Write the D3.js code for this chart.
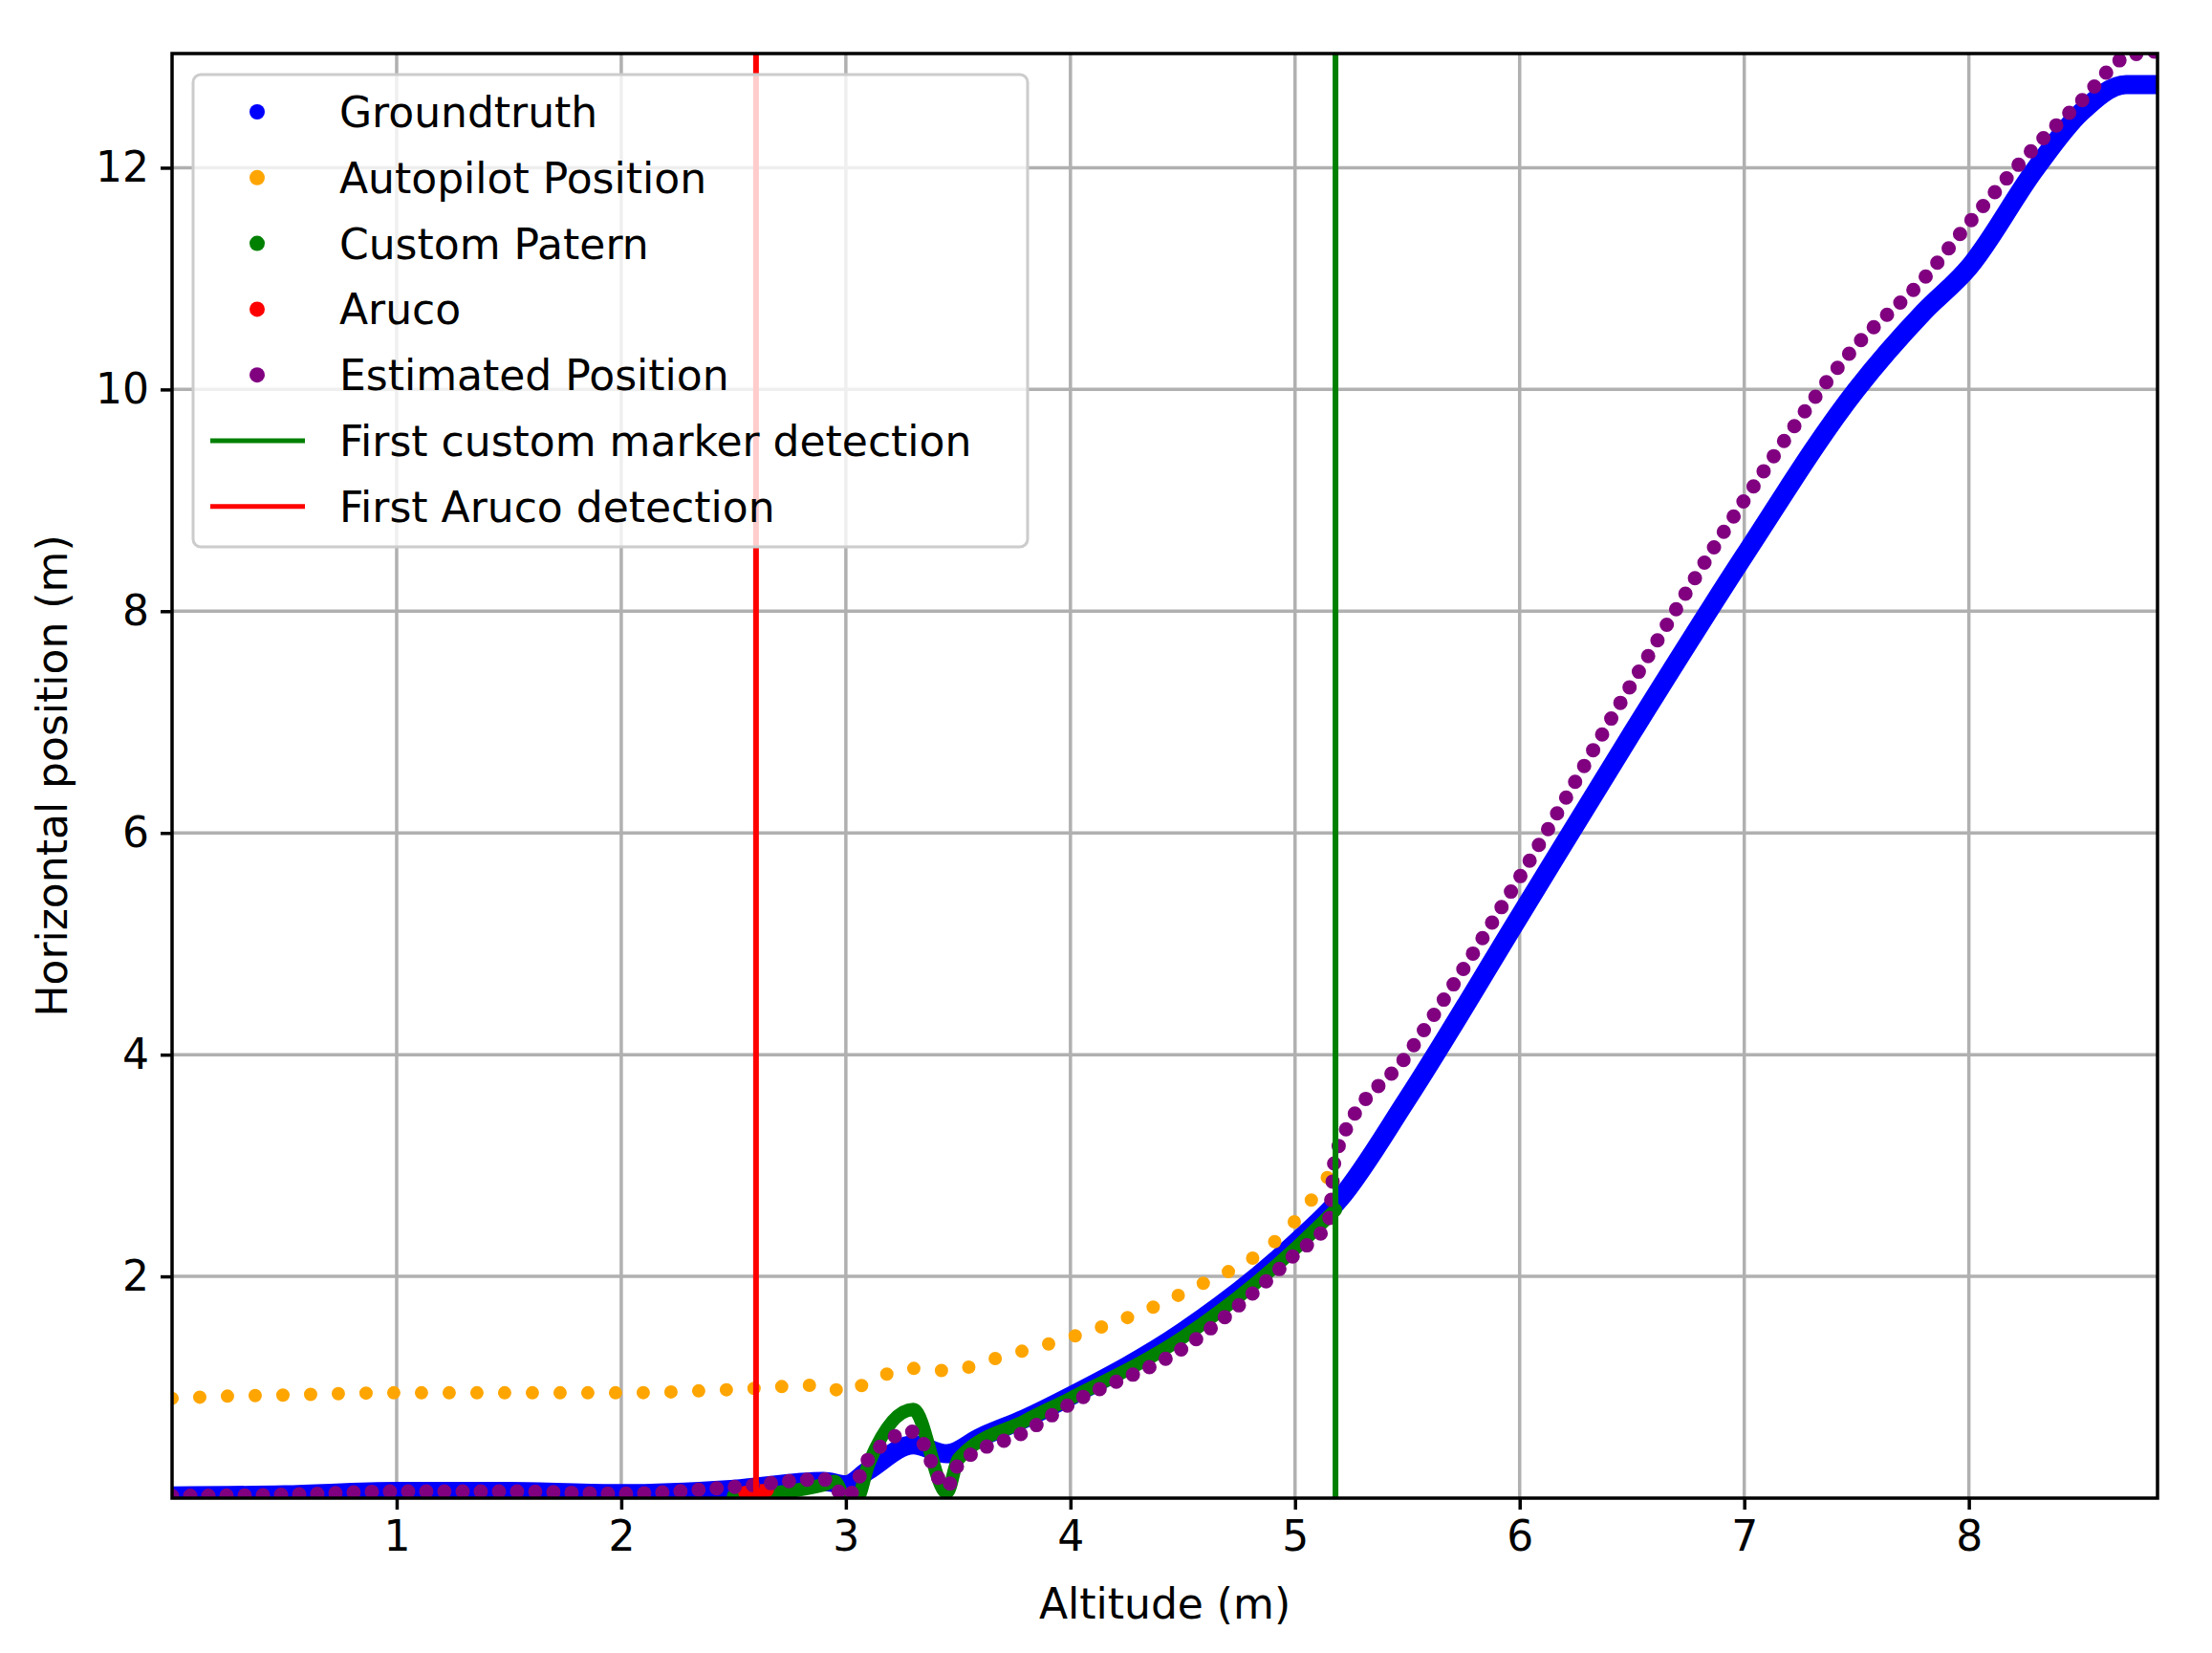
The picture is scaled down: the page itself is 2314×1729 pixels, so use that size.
<!DOCTYPE html><html><head><meta charset="utf-8">
<script src="https://cdn.jsdelivr.net/npm/d3@7"></script>
<style>body{margin:0;background:#fff}text{font-family:"DejaVu Sans",sans-serif}</style></head><body>
<svg id="c" width="2314" height="1729"></svg>
<script>
const xTicks=[1,2,3,4,5,6,7,8], yTicks=[2,4,6,8,10,12];
const gtX=[0,0.5,1,1.5,2,2.5,2.9,3.0,3.1,3.3,3.45,3.6,3.8,4,4.5,5,5.2,5.5,6,6.5,7,7.5,7.8,8,8.3,8.5,8.7,8.84];
const gtY=[0.02,0.03,0.06,0.06,0.04,0.08,0.15,0.12,0.25,0.48,0.4,0.55,0.72,0.92,1.5,2.3,2.7,3.6,5.25,6.9,8.5,10.0,10.7,11.1,12.0,12.5,12.75,12.75];
const apX=[0,0.25,0.5,1,1.5,2,2.5,2.9,3.0,3.1,3.3,3.45,3.7,4,4.5,5,5.18];
const apY=[0.9,0.92,0.93,0.95,0.95,0.95,0.98,1.02,0.95,1.05,1.17,1.15,1.28,1.45,1.85,2.5,3.0];
const cpX=[2.5,2.9,2.95,3.0,3.05,3.1,3.3,3.45,3.5,3.8,4,4.5,5,5.18];
const cpY=[0.02,0.12,0.15,0.0,0.0,0.3,0.8,0.05,0.35,0.7,0.9,1.45,2.25,2.6];
const arX=[2.55,2.6,2.65], arY=[0.05,0.06,0.07];
const esX=[0,0.5,1,1.5,2,2.5,2.9,2.95,3.0,3.1,3.3,3.45,3.5,3.8,4,4.5,5,5.15,5.18,5.5,6,6.5,7,7.5,7.8,8,8.3,8.5,8.7,8.84];
const esY=[0.02,0.03,0.06,0.06,0.04,0.1,0.17,0.1,0.0,0.35,0.6,0.1,0.3,0.6,0.85,1.35,2.2,2.5,3.1,4.0,5.6,7.35,9.0,10.4,11.0,11.5,12.2,12.6,13.0,13.05];
const firstCustom=5.18, firstAruco=2.6;

const svg=d3.select("#c");
const L=180,R=2257,T=56,B=1567;
const x=d3.scaleLinear().domain([0,8.84]).range([L,R]);
const y=d3.scaleLinear().domain([0,13.03]).range([B,T]);
const g=svg.append("g");
g.selectAll(".gx").data(xTicks).join("line").attr("x1",d=>x(d)).attr("x2",d=>x(d)).attr("y1",T).attr("y2",B).attr("stroke","#b0b0b0").attr("stroke-width",3.5);
g.selectAll(".gy").data(yTicks).join("line").attr("y1",d=>y(d)).attr("y2",d=>y(d)).attr("x1",L).attr("x2",R).attr("stroke","#b0b0b0").attr("stroke-width",3.5);
svg.append("clipPath").attr("id","cl").append("rect").attr("x",L).attr("y",T).attr("width",R-L).attr("height",B-T);
const P=svg.append("g").attr("clip-path","url(#cl)");
const line=d3.line().curve(d3.curveMonotoneX);
function path(xs,ys,col,w,dash){
  const p=P.append("path").attr("d",line(xs.map((v,i)=>[x(v),y(ys[i])]))).attr("fill","none").attr("stroke",col).attr("stroke-width",w).attr("stroke-linecap","round").attr("stroke-linejoin","round");
  if(dash)p.attr("stroke-dasharray",dash);
}
path(gtX,gtY,"blue",20);
path(apX,apY,"orange",14,"0 29");
path(cpX,cpY,"green",14);
path(arX,arY,"red",14);
path(esX,esY,"purple",15,"0 19");
P.append("line").attr("x1",x(firstCustom)).attr("x2",x(firstCustom)).attr("y1",T).attr("y2",B).attr("stroke","green").attr("stroke-width",6);
P.append("line").attr("x1",x(firstAruco)).attr("x2",x(firstAruco)).attr("y1",T).attr("y2",B).attr("stroke","red").attr("stroke-width",6);
svg.append("rect").attr("x",L).attr("y",T).attr("width",R-L).attr("height",B-T).attr("fill","none").attr("stroke","#000").attr("stroke-width",3.5);
const xa=svg.append("g").attr("transform",`translate(0,${B})`).call(d3.axisBottom(x).tickValues(xTicks).tickSize(12).tickPadding(12).tickFormat(d3.format("d")));
const ya=svg.append("g").attr("transform",`translate(${L},0)`).call(d3.axisLeft(y).tickValues(yTicks).tickSize(12).tickPadding(12).tickFormat(d3.format("d")));
[xa,ya].forEach(a=>{a.select(".domain").remove();a.selectAll("line").attr("stroke-width",3.5);a.selectAll("text").attr("font-size",44).attr("font-family","DejaVu Sans");});
svg.append("text").attr("x",(L+R)/2).attr("y",1693).attr("text-anchor","middle").attr("font-size",44).text("Altitude (m)");
svg.append("text").attr("transform",`translate(70,${(T+B)/2}) rotate(-90)`).attr("text-anchor","middle").attr("font-size",44).text("Horizontal position (m)");
const legNames=["Groundtruth","Autopilot Position","Custom Patern","Aruco","Estimated Position","First custom marker detection","First Aruco detection"];
const legCols=["blue","orange","green","red","purple","green","red"];
const lg=svg.append("g");
lg.append("rect").attr("x",202).attr("y",78).attr("width",873).attr("height",494).attr("rx",8).attr("fill","white").attr("fill-opacity",0.8).attr("stroke","#ccc").attr("stroke-width",3);
legNames.forEach((n,i)=>{
  const yy=117+i*68.8;
  if(i<5) lg.append("circle").attr("cx",269).attr("cy",yy).attr("r",8).attr("fill",legCols[i]);
  else lg.append("line").attr("x1",220).attr("x2",319).attr("y1",yy).attr("y2",yy).attr("stroke",legCols[i]).attr("stroke-width",5);
  lg.append("text").attr("x",355).attr("y",yy+16).attr("font-size",44).text(n);
});
</script></body></html>
